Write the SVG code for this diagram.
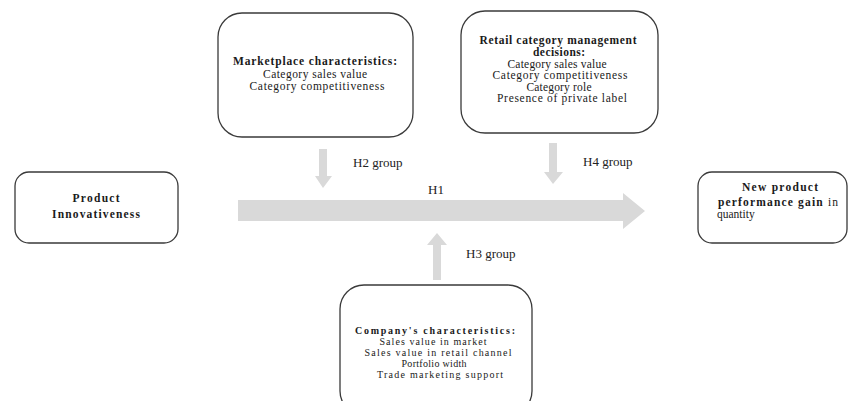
<svg xmlns="http://www.w3.org/2000/svg" width="850" height="401" viewBox="0 0 850 401">
<style>
.box{fill:#fff;stroke:#3a3a3a;stroke-width:1.3}
.t{font-family:"Liberation Serif","Times New Roman",serif;font-size:11.5px;fill:#1a1a1a;text-anchor:middle}
.c{font-size:10px}
.s{text-anchor:start}
.b{font-weight:bold}
.lbl{font-family:"Liberation Serif","Times New Roman",serif;font-size:13px;fill:#222}
.arr{fill:#d9d9d9}
</style>
<rect width="850" height="401" fill="#fff"/>
<g id="connectors">
<polygon class="arr" points="238,200 623,200 623,193 645,211 623,229 623,221 238,221"/>
<polygon class="arr" points="319,149 327,149 327,176 332,176 323,188 315,176 319,176"/>
<polygon class="arr" points="549,143 557,143 557,172 563,172 553,184 544,172 549,172"/>
<polygon class="arr" points="433,280 441,280 441,245 447,245 437,233 427,245 433,245"/>
<text class="lbl" x="353" y="167">H2 group</text>
<text class="lbl" x="583" y="166">H4 group</text>
<text class="lbl" x="428" y="194">H1</text>
<text class="lbl" x="466" y="258">H3 group</text>
</g>
<g id="marketplace">
<rect class="box" x="218" y="13" width="195" height="124" rx="24"/>
<text class="t b" x="315" y="65" textLength="164">Marketplace characteristics:</text>
<text class="t" x="315" y="78" textLength="104">Category sales value</text>
<text class="t" x="317" y="90" textLength="135">Category competitiveness</text>
</g>
<g id="retail">
<rect class="box" x="461" y="11" width="197" height="122" rx="24"/>
<text class="t b" x="558" y="44" textLength="157">Retail category management</text>
<text class="t b" x="559" y="56" textLength="52">decisions:</text>
<text class="t" x="557" y="68" textLength="99">Category sales value</text>
<text class="t" x="560" y="79" textLength="135">Category competitiveness</text>
<text class="t" x="559" y="91" textLength="65">Category role</text>
<text class="t" x="562" y="102" textLength="130">Presence of private label</text>
</g>
<g id="product">
<rect class="box" x="15" y="172" width="163" height="71" rx="14"/>
<text class="t b" x="96" y="202" textLength="47">Product</text>
<text class="t b" x="96" y="218" textLength="88">Innovativeness</text>
</g>
<g id="newproduct">
<rect class="box" x="698" y="172" width="149" height="71" rx="14"/>
<text class="t b" x="780" y="191" textLength="76">New product</text>
<text class="t s" x="718" y="206" textLength="120"><tspan class="b">performance  gain</tspan> in</text>
<text class="t s" x="717" y="218">quantity</text>
</g>
<g id="company">
<rect class="box" x="340" y="285" width="192" height="130" rx="24"/>
<text class="t c b" x="435" y="334" textLength="160">Company's characteristics:</text>
<text class="t c" x="433" y="345" textLength="107">Sales value in market</text>
<text class="t c" x="438" y="356" textLength="147">Sales value in retail channel</text>
<text class="t c" x="434" y="367" textLength="65">Portfolio width</text>
<text class="t c" x="440" y="378" textLength="126">Trade marketing support</text>
</g>
</svg>
